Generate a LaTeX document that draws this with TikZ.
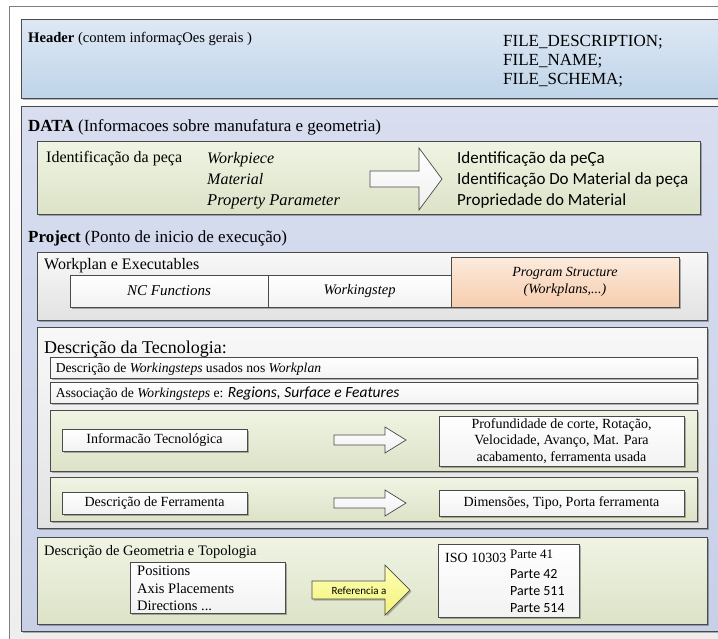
\documentclass[tikz,border=0pt]{standalone}
\usepackage{fontspec}
\setmainfont{Liberation Serif}
\newfontfamily\calfont{Carlito}
\usetikzlibrary{shadows,fit,calc}

\definecolor{frameline}{HTML}{7F7F7F}
\definecolor{boxline}{HTML}{4A4A4A}
\definecolor{hdrtop}{HTML}{DEE8F4}
\definecolor{hdrbot}{HTML}{BFD4E9}
\definecolor{lavtop}{HTML}{D8DEEF}
\definecolor{lavbot}{HTML}{C8D0E8}
\definecolor{grntop}{HTML}{F0F4E4}
\definecolor{grnbot}{HTML}{DCE3C7}
\definecolor{grytop}{HTML}{F8F8F8}
\definecolor{grybot}{HTML}{E2E2E2}
\definecolor{pchtop}{HTML}{FCEBDD}
\definecolor{pchbot}{HTML}{F7CDAE}
\definecolor{yeltop}{HTML}{FFFFB8}
\definecolor{yelbot}{HTML}{F2F27A}

\newcommand\fs[1]{\fontsize{#1}{1.2\dimexpr#1pt\relax}\selectfont}
% block arrow: style, tail x, head start x, tip x, centre y, shaft half height, head half height
\newcommand\blockarrow[7]{%
  \path[#1] (#2,#5-#6) -- (#3,#5-#6) -- (#3,#5-#7) -- (#4,#5)
    -- (#3,#5+#7) -- (#3,#5+#6) -- (#2,#5+#6) -- cycle;}

\tikzset{
  shade/.style={drop shadow={shadow xshift=2pt,shadow yshift=-2pt,fill=black,opacity=0.28}},
  area/.style={inner sep=0pt,draw=boxline,line width=0.8pt},
  headerbox/.style={area,shade,top color=hdrtop,bottom color=hdrbot},
  lavbox/.style={area,shade,top color=lavtop,bottom color=lavbot},
  greenbox/.style={area,shade,top color=grntop,bottom color=grnbot},
  greybox/.style={area,shade,top color=grytop,bottom color=grybot},
  whitebox/.style={area,shade,top color=white,bottom color=black!5},
  peachbox/.style={area,shade,top color=pchtop,bottom color=pchbot},
  txt/.style={inner sep=0pt,anchor=base west},
  ctr/.style={inner sep=0pt,align=center},
  hollow/.style={draw=boxline,line width=0.7pt,top color=white,bottom color=black!6},
  yellowarrow/.style={draw=boxline,line width=0.7pt,top color=yeltop,bottom color=yelbot,
    drop shadow={shadow xshift=1.5pt,shadow yshift=-1.5pt,fill=black,opacity=0.25}},
}

\begin{document}
\begin{tikzpicture}[x=1pt,y=-1pt]
\useasboundingbox (0,0) rectangle (718,638);
\fill[white] (0,0) rectangle (718,638);
\clip (0,0) rectangle (718,638);

% outer frame
\node[fit={(9,6) (740,660)},inner sep=0pt,draw=frameline,line width=0.8pt,
  top color=white,bottom color=black!7] (frame) {};

% ---------- header ----------
\node[fit={(21,19) (740,98)},headerbox] (header) {};
\node[txt,font=\fs{14.6}] (hdrtxt) at (28,42) {\textbf{Header} (contem informaçOes gerais )};
\node[txt,font=\fs{17}] (fd) at (503,46) {FILE\_DESCRIPTION;};
\node[txt,font=\fs{17}] (fn) at (503,65) {FILE\_NAME;};
\node[txt,font=\fs{17}] (fsch) at (503,84) {FILE\_SCHEMA;};

% ---------- data ----------
\node[fit={(21,106) (740,631)},lavbox] (data) {};
\node[txt,font=\fs{17}] (datatxt) at (28,131) {\textbf{DATA} (Informacoes sobre manufatura e geometria)};

\node[fit={(37,141) (700,214)},greenbox] (piece) {};
\node[txt,font=\fs{16}] (pieceid) at (46,162) {Identificação da peça};
\node[txt,font=\fs{16}\itshape] (wp) at (207,163) {Workpiece};
\node[txt,font=\fs{16}\itshape] (mat) at (207,184) {Material};
\node[txt,font=\fs{16.5}\itshape] (prop) at (207,205) {Property Parameter};
\blockarrow{hollow}{370}{419}{442}{179}{8}{31}
\node[txt,font=\calfont\fs{17}] (r1) at (457,163) {Identificação da peÇa};
\node[txt,font=\calfont\fs{17}] (r2) at (457,184) {Identificação Do Material da peça};
\node[txt,font=\calfont\fs{17}] (r3) at (457,205) {Propriedade do Material};

% ---------- project ----------
\node[txt,font=\fs{17}] (projtxt) at (28,242) {\textbf{Project} (Ponto de inicio de execução)};

\node[fit={(37,252) (707,320)},greybox] (workplan) {};
\node[txt,font=\fs{16}] (wptxt) at (44,269) {Workplan e Executables};
\node[fit={(70,275) (268,307)},whitebox] (ncf) {};
\node[ctr,font=\fs{15}\itshape] at (ncf) {NC Functions};
\node[fit={(268,275) (451,307)},whitebox] (wstep) {};
\node[ctr,font=\fs{14.5}\itshape] at (wstep) {Workingstep};
\node[fit={(451,257) (679,307)},peachbox] (progstruct) {};
\node[ctr,font=\fs{14}\itshape] at (progstruct) {Program Structure\\(Workplans,...)};

% technology description
\node[fit={(37,327) (707,528)},greybox] (tech) {};
\node[txt,font=\fs{18}] (techtxt) at (44,353) {Descrição da Tecnologia:};
\node[fit={(50,357) (697,378)},whitebox] (wsdesc) {};
\node[txt,font=\fs{13.6}] at ($(wsdesc.west)+(6,4.5)$) {Descrição de \textit{Workingsteps} usados nos \textit{Workplan}};
\node[fit={(50,382) (697,403)},whitebox] (assoc) {};
\node[txt,font=\fs{13.6}] at ($(assoc.west)+(6,4.5)$) {Associação de \textit{Workingsteps} e: {\calfont\itshape\fs{15.5}Regions, Surface e Features}};

\node[fit={(50,410) (697,471)},greenbox] (infopanel) {};
\node[fit={(62,429) (247,451)},whitebox] (infotec) {};
\node[ctr,font=\fs{14}] at (infotec) {Informacão Tecnológica};
\blockarrow{hollow}{334}{385}{406}{440}{5}{13}
\node[fit={(439,416) (684,466)},whitebox] (infoout) {};
\node[ctr,font=\fs{14}] at (infoout) {Profundidade de corte, Rotação,\\Velocidade, Avanço, Mat. Para\\acabamento, ferramenta usada};

\node[fit={(50,477) (697,521)},greenbox] (toolpanel) {};
\node[fit={(62,492) (247,514)},whitebox] (tooldesc) {};
\node[ctr,font=\fs{14}] at (tooldesc) {Descrição de Ferramenta};
\blockarrow{hollow}{334}{385}{406}{503}{5}{13}
\node[fit={(439,490) (684,516)},whitebox] (toolout) {};
\node[ctr,font=\fs{14}] at (toolout) {Dimensões, Tipo, Porta ferramenta};

% geometry and topology
\node[fit={(37,537) (707,624)},greenbox] (geom) {};
\node[txt,font=\fs{14.5}] (geomtxt) at (44,555) {Descrição de Geometria e Topologia};
\node[fit={(130,562) (285,613)},whitebox] (place) {};
\node[txt,font=\fs{14.5}] (pos) at (137,575) {Positions};
\node[txt,font=\fs{14.5}] (axis) at (137,593) {Axis Placements};
\node[txt,font=\fs{14.5}] (dirs) at (137,610) {Directions ...};
\blockarrow{yellowarrow}{312}{385}{410}{590}{9}{25}
\node[ctr,font=\calfont\fs{11}] (refa) at (359,591) {Referencia a};
\node[fit={(438,544) (579,617)},whitebox] (iso) {};
\node[txt,font=\fs{14}] (isotxt) at (445,562) {ISO 10303};
\node[txt,font=\fs{13}] (p41) at (510,558) {Parte 41};
\node[txt,font=\calfont\fs{14}] (p42) at (510,578) {Parte 42};
\node[txt,font=\calfont\fs{14}] (p511) at (510,595) {Parte 511};
\node[txt,font=\calfont\fs{14}] (p514) at (510,612) {Parte 514};
\end{tikzpicture}
\end{document}
